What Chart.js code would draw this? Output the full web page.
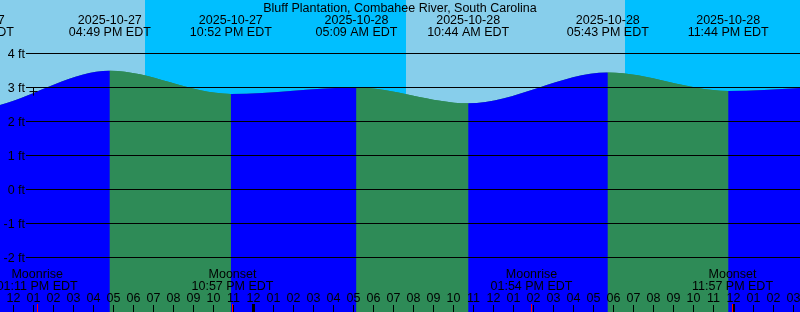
<!DOCTYPE html>
<html>
<head>
<meta charset="utf-8">
<title>Bluff Plantation - tide graph</title>
<script src="https://cdn.jsdelivr.net/npm/chart.js@4.4.1/dist/chart.umd.min.js"></script>
<style>
  html, body { margin: 0; padding: 0; background: #87ceeb; }
  canvas { display: block; }
</style>
</head>
<body>
<canvas id="tide-chart" width="800" height="312"></canvas>
<script>
const TITLE = 'Bluff Plantation, Combahee River, South Carolina';

// all times are hours counted from 2025-10-27 00:00 EDT
const TIDE_HOURS = [4.25, 9.967, 16.817, 22.867, 29.15, 34.733, 41.717, 47.733, 54.25, 60.33];
const TIDE_FEET  = [3.0, 2.37, 3.49, 2.81, 3.0, 2.535, 3.44, 2.90, 3.05, 2.5];
const TIDE_DATES = ['2025-10-27', '2025-10-27', '2025-10-27', '2025-10-27', '2025-10-28',
                    '2025-10-28', '2025-10-28', '2025-10-28', '2025-10-29', '2025-10-29'];
const TIDE_TIMES = ['04:15 AM EDT', '09:58 AM EDT', '04:49 PM EDT', '10:52 PM EDT', '05:09 AM EDT',
                    '10:44 AM EDT', '05:43 PM EDT', '11:44 PM EDT', '06:15 AM EDT', '12:20 PM EDT'];

const NIGHT_START = [18.575, 42.575];
const NIGHT_END   = [31.625, 55.625];

const MOON_HOURS  = [13.183, 22.95, 37.9, 47.95];
const MOON_EVENTS = ['Moonrise', 'Moonset', 'Moonrise', 'Moonset'];
const MOON_TIMES  = ['01:11 PM EDT', '10:57 PM EDT', '01:54 PM EDT', '11:57 PM EDT'];

const Y_TICKS = [4, 3, 2, 1, 0, -1, -2];

// the "+" mark on the curve
const NOW_HOUR = 13.0;
const NOW_FEET = 2.88;

const X_MIN = 11.325;
const X_MAX = 51.325;
const Y_MAX = 189.5 / 34;
const Y_MIN = Y_MAX - 312 / 34;

const DAY_COLOR = '#87ceeb';
const NIGHT_COLOR = '#00bfff';
const RISING_COLOR = '#0000ff';
const FALLING_COLOR = '#2e8b57';
const FONT = '12.5px "Liberation Sans", Arial, sans-serif';

function hourLabel(h) {
  const hh = h % 12 === 0 ? 12 : h % 12;
  return String(hh).padStart(2, '0');
}

const tideDecor = {
  id: 'tideDecor',
  beforeDraw(chart) {
    const { ctx, chartArea: a, scales: { x } } = chart;
    ctx.save();
    ctx.fillStyle = DAY_COLOR;
    ctx.fillRect(a.left, a.top, a.width, a.height);
    ctx.fillStyle = NIGHT_COLOR;
    NIGHT_START.forEach((start, i) => {
      const x0 = x.getPixelForValue(start);
      const x1 = x.getPixelForValue(NIGHT_END[i]);
      ctx.fillRect(x0, a.top, x1 - x0, a.height);
    });
    ctx.restore();
  },
  afterDatasetsDraw(chart) {
    const { ctx, chartArea: a, scales: { x, y } } = chart;
    ctx.save();
    ctx.font = FONT;
    ctx.fillStyle = '#000';

    // horizontal grid + foot labels
    ctx.textAlign = 'right';
    ctx.textBaseline = 'alphabetic';
    Y_TICKS.forEach(v => {
      const py = y.getPixelForValue(v);
      ctx.fillRect(26, py - 0.5, a.right - 26, 1);
      ctx.fillText(v + ' ft', 25, py + 4.5);
    });

    // hour ticks and labels
    ctx.textAlign = 'center';
    for (let h = Math.floor(X_MIN); h <= Math.ceil(X_MAX); h++) {
      const px = x.getPixelForValue(h);
      if (h % 24 === 0) {
        ctx.fillRect(px - 1.5, 304, 3, a.bottom - 304);
      } else {
        ctx.fillRect(px - 0.5, 305, 1, a.bottom - 305);
      }
      ctx.fillText(hourLabel(h), px, 302);
    }

    // moon events
    MOON_HOURS.forEach((h, i) => {
      const px = x.getPixelForValue(h);
      ctx.fillStyle = '#ff0000';
      ctx.fillRect(Math.floor(px), 304, 1, a.bottom - 304);
      ctx.fillStyle = '#000';
      ctx.fillText(MOON_EVENTS[i], px, 278);
      ctx.fillText(MOON_TIMES[i], px, 290);
    });

    // high / low tide times
    TIDE_HOURS.forEach((h, i) => {
      const px = x.getPixelForValue(h);
      ctx.fillText(TIDE_DATES[i], px, 24);
      ctx.fillText(TIDE_TIMES[i], px, 36);
    });

    ctx.fillText(TITLE, (a.left + a.right) / 2, 12);
    ctx.restore();
  }
};

const tideData = TIDE_HOURS.map((h, i) => ({ x: h, y: TIDE_FEET[i] }));

new Chart(document.getElementById('tide-chart'), {
  type: 'line',
  data: {
    datasets: [
      {
        label: 'now',
        data: [{ x: NOW_HOUR, y: NOW_FEET }],
        showLine: false,
        pointStyle: 'cross',
        pointRadius: 4,
        pointBorderColor: '#000',
        pointBorderWidth: 1,
        pointBackgroundColor: '#000'
      },
      {
        label: 'Tide',
        data: tideData,
        cubicInterpolationMode: 'monotone',
        borderColor: 'rgba(0,0,0,0)',
        borderWidth: 0,
        pointRadius: 0,
        fill: 'start',
        backgroundColor: RISING_COLOR,
        segment: {
          backgroundColor: c => c.p1.parsed.y > c.p0.parsed.y ? RISING_COLOR : FALLING_COLOR
        }
      },
      {
        // same curve underneath, hides the seams between colour segments
        label: 'Tide base',
        data: tideData,
        cubicInterpolationMode: 'monotone',
        borderColor: 'rgba(0,0,0,0)',
        borderWidth: 0,
        pointRadius: 0,
        fill: 'start',
        backgroundColor: FALLING_COLOR
      }
    ]
  },
  options: {
    responsive: false,
    animation: false,
    layout: { padding: 0, autoPadding: false },
    plugins: {
      legend: { display: false },
      tooltip: { enabled: false }
    },
    scales: {
      x: { type: 'linear', min: X_MIN, max: X_MAX, display: false },
      y: { type: 'linear', min: Y_MIN, max: Y_MAX, display: false }
    }
  },
  plugins: [tideDecor]
});
</script>
</body>
</html>
